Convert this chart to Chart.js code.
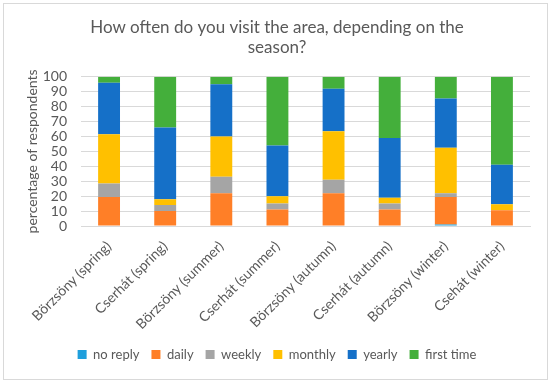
<!DOCTYPE html>
<html>
<head>
<meta charset="utf-8">
<script src="https://cdn.jsdelivr.net/npm/chart.js@4.4.1/dist/chart.umd.min.js"></script>
<style>
  body { margin: 0; background: #fff; }
  #frame { position: absolute; left: 3px; top: 3px; width: 543px; height: 375px; border: 1px solid #d9d9d9; }
  #wrap { position: absolute; left: 0; top: 0; width: 550px; height: 383px; }
</style>
</head>
<body>
<div id="frame"></div>
<div id="wrap"><canvas id="canvas_plot1"></canvas></div>
<script>
// categories and series (percent of respondents)
var sites = ['Börzsöny (spring)', 'Cserhát (spring)', 'Börzsöny (summer)', 'Cserhát (summer)',
             'Börzsöny (autumn)', 'Cserhát (autumn)', 'Börzsöny (winter)', 'Csehát (winter)']
var no_reply   = [0, 0, 0, 0, 0, 0, 1, 0]
var daily      = [19.5, 10, 22, 11, 22, 11, 18.5, 10.5]
var weekly     = [9, 4, 11, 4, 9, 4, 2.5, 0]
var monthly    = [33, 4, 27, 5, 32.5, 4, 30.5, 4]
var yearly     = [34.5, 48, 35, 34, 28.5, 40, 33, 26.5]
var first_time = [4, 34, 5, 46, 8, 41, 14.5, 59]

var fontFam = "Lato, 'Open Sans', sans-serif"
var grey = '#595959'

function makeSet(lbl, arr, col) {
    return { label: lbl, data: arr, backgroundColor: col, borderWidth: 0,
             barPercentage: 0.39, categoryPercentage: 1.0 }
}

var data_bars = {
    labels: sites,
    datasets: [
        makeSet('no reply', no_reply, '#1f9fdc'),
        makeSet('daily', daily, '#ff7f27'),
        makeSet('weekly', weekly, '#a5a5a5'),
        makeSet('monthly', monthly, '#ffc000'),
        makeSet('yearly', yearly, '#1570c8'),
        makeSet('first time', first_time, '#44af3b')
    ]
};

var config = {
    type: 'bar',
    data: data_bars,
    options: {
        responsive: true,
        maintainAspectRatio: false,
        animation: false,
        layout: { padding: { left: 24, right: 20, top: 11, bottom: 12 } },
        plugins: {
            title: {
                display: true,
                text: ['How often do you visit the area, depending on the', 'season?'],
                color: grey,
                font: { family: fontFam, size: 17, weight: 'normal' },
                padding: { top: 6, bottom: 19 }
            },
            legend: {
                position: 'bottom',
                labels: {
                    color: grey,
                    font: { family: fontFam, size: 13 },
                    boxWidth: 9,
                    boxHeight: 9,
                    padding: 12
                }
            },
            tooltip: { enabled: false }
        },
        scales: {
            x: {
                stacked: true,
                grid: { display: false },
                border: { color: '#d9d9d9' },
                ticks: { color: grey, font: { family: fontFam, size: 14 }, minRotation: 45, maxRotation: 45, padding: 4 },
                afterFit: function (s) { s.height = 110 }
            },
            y: {
                stacked: true,
                min: 0,
                max: 100,
                grid: { color: '#d9d9d9', drawTicks: false },
                border: { display: false },
                ticks: { stepSize: 10, autoSkip: false, color: grey, font: { family: fontFam, size: 14 }, padding: 14 },
                title: {
                    display: true,
                    text: 'percentage of respondents',
                    color: grey,
                    font: { family: fontFam, size: 14 },
                    padding: 0
                },
                afterFit: function (s) { s.width = 57 }
            }
        }
    }
};

var barchar = new Chart(document.getElementById('canvas_plot1'), config)
</script>
</body>
</html>
